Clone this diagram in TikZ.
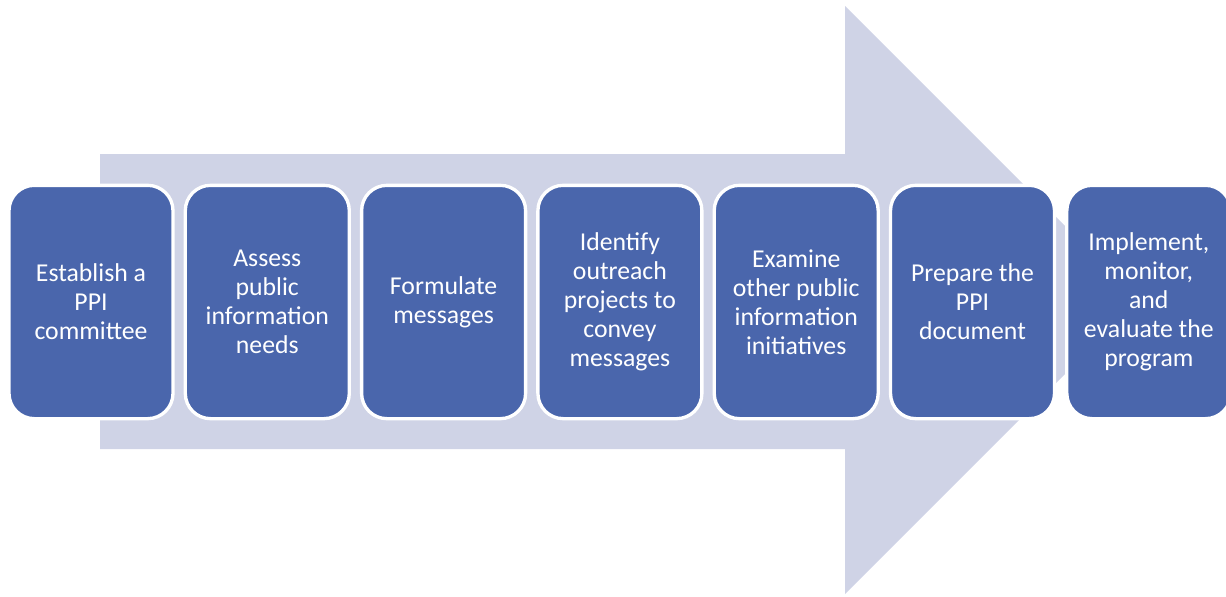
\documentclass[tikz,border=0pt]{standalone}
\usepackage{fontspec}
\setmainfont{Carlito}
\definecolor{stepblue}{HTML}{4A66AC}
\definecolor{arrowlav}{HTML}{CFD3E6}

\begin{document}
\begin{tikzpicture}[x=0.75pt,y=-0.75pt]

\tikzset{stepbox/.style={draw=white, line width=2.5pt, fill=stepblue,
    rounded corners=19pt, minimum width=123pt, minimum height=175pt,
    text=white, align=center, inner sep=2pt,
    font=\fontsize{19.3}{21.75}\selectfont}}

\useasboundingbox (0,0) rectangle (1226,596);

% big arrow behind the steps
\fill[arrowlav] (100,154) -- (845,154) -- (845,6) -- (1139,300)
    -- (845,594) -- (845,449) -- (100,449) -- cycle;

\foreach \name/\x/\label in {
    establish/91/{Establish a\\PPI\\committee},
    assess/267.3/{Assess\\public\\information\\needs},
    formulate/443.6/{Formulate\\messages},
    identify/619.9/{Identify\\outreach\\projects to\\convey\\messages},
    examine/796.2/{Examine\\other public\\information\\initiatives},
    prepare/972.5/{Prepare the\\PPI\\document},
    implement/1148.8/{Implement,\\monitor,\\and\\evaluate the\\program}}
    \node[stepbox] (\name) at (\x,302) {\label};

\end{tikzpicture}
\end{document}
